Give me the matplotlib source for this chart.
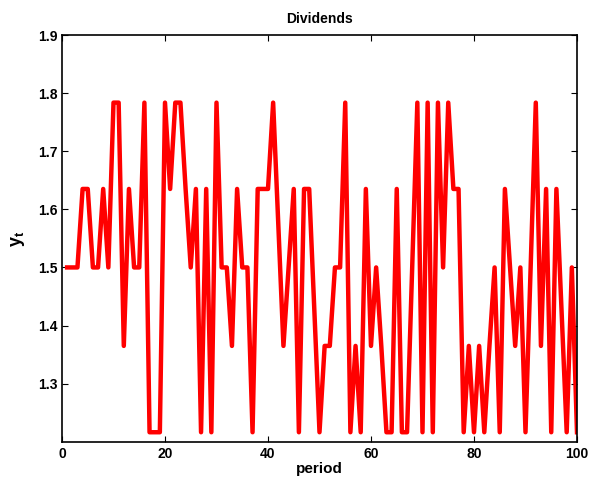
import matplotlib
matplotlib.use("Agg")
import matplotlib.pyplot as plt
import numpy as np

plt.rcParams['font.family'] = ['Liberation Sans', 'DejaVu Sans']
plt.rcParams['font.weight'] = 'bold'
plt.rcParams['mathtext.fontset'] = 'custom'
plt.rcParams['mathtext.rm'] = 'Liberation Sans'
plt.rcParams['mathtext.bf'] = 'Liberation Sans:bold'

# dividend states (levels of the Markov chain)
L0, L1, L2, L3, L4 = 1.2163, 1.3649, 1.5, 1.6351, 1.7837

period = np.arange(1, 101)
dividends = [
    L2, L2, L2, L3, L3, L2, L2, L3, L2, L4,
    L4, L1, L3, L2, L2, L4, L0, L0, L0, L4,
    L3, L4, L4, L3, L2, L3, L0, L3, L0, L4,
    L2, L2, L1, L3, L2, L2, L0, L3, L3, L3,
    L4, 1.574, L1, L2, L3, L0, L3, L3, 1.426, L0,
    L1, L1, L2, L2, L4, L0, L1, L0, L3, L1,
    L2, L1, L0, L0, L3, L0, L0, L2, L4, L0,
    L4, L0, L4, L2, L4, L3, L3, L0, L1, L0,
    L1, L0, L1, L2, L0, L3, L2, L1, L2, L0,
    L2, L4, L1, L3, L0, L3, 1.426, L0, L2, L0,
]

fig = plt.figure(figsize=(5.91, 4.87), dpi=100)
ax = fig.add_axes([0.1049, 0.093, 0.8714, 0.835])
ax.plot(period, dividends, color='red', linewidth=3.2)

ax.set_xlim(0, 100)
ax.set_ylim(1.2, 1.9)
ax.set_xticks([0, 20, 40, 60, 80, 100])
ax.set_yticks([1.3, 1.4, 1.5, 1.6, 1.7, 1.8, 1.9])
ax.tick_params(direction='in', top=True, right=True, labelsize=10, width=0.8, length=4)
for lab in ax.get_xticklabels() + ax.get_yticklabels():
    lab.set_fontweight('bold')
for s in ax.spines.values():
    s.set_linewidth(1.2)

ax.set_title('Dividends', fontsize=10, fontweight='bold', pad=9)
ax.set_xlabel('period', fontsize=11, fontweight='bold', labelpad=1)
ax.set_ylabel(r'$\mathbf{y_t}$', fontsize=13, labelpad=8)

fig.savefig('out.png', dpi=100)
